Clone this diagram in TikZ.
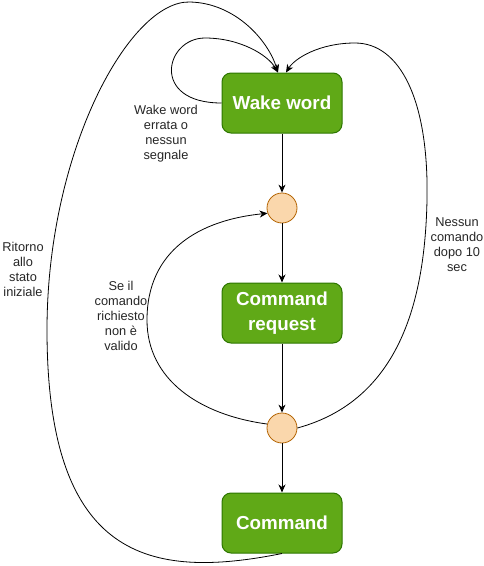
\documentclass[tikz,border=0pt]{standalone}
\usepackage{fontspec}
\setmainfont{Liberation Sans}
\usetikzlibrary{arrows.meta}
\definecolor{gfill}{HTML}{60A917}
\definecolor{gline}{HTML}{2D7600}
\definecolor{ofill}{HTML}{FAD7AC}
\definecolor{oline}{HTML}{B46504}
\begin{document}
\begin{tikzpicture}[x=1pt,y=-1pt,
  statebox/.style={draw=gline, fill=gfill, rounded corners=9pt, minimum width=120pt, minimum height=60pt, text=white, font=\fontsize{18.8}{25}\selectfont\bfseries, align=center, line width=1pt, inner sep=0pt},
  junction/.style={circle, draw=oline, fill=ofill, minimum size=30pt, inner sep=0pt, line width=0.8pt},
  arr/.style={-{Stealth[length=8pt,width=7pt,inset=2.5pt]}, line width=1pt},
  curve/.style={-{Stealth[length=8pt,width=7pt,inset=2.5pt]}, line width=0.8pt},
  lbl/.style={font=\fontsize{12.8}{15}\selectfont, align=center, text=black!85, inner sep=0pt}]
\useasboundingbox (0,0) rectangle (484,566);
\node[statebox] (wake) at (282,103) {Wake word};
\node[junction] (c1) at (282,208) {};
\node[statebox] (cr) at (282,313) {Command\\request};
\node[junction] (c2) at (282,428) {};
\node[statebox] (cmd) at (282,523) {Command};

\draw[arr] (wake) -- (c1);
\draw[arr] (c1) -- (cr);
\draw[arr] (cr) -- (c2);
\draw[arr] (c2) -- (cmd);

\draw[curve] (wake.west) .. controls (150,103) and (165,38) .. (205,38) .. controls (240,38) and (268,55) .. ([xshift=-4pt]wake.north);
\draw[curve] (cmd.south) .. controls (150,580) and (47,560) .. (47,330) .. controls (47,150) and (130,0) .. (190,2) .. controls (235,3) and (268,40) .. ([xshift=-4pt]wake.north);
\draw[curve] (c2.east) .. controls (400,400) and (425,300) .. (427,200) .. controls (429,100) and (400,43) .. (355,43) .. controls (320,43) and (295,58) .. ([xshift=4pt]wake.north);
\draw[curve] (c2.165) .. controls (200,415) and (147,380) .. (147,320) .. controls (147,250) and (200,220) .. (c1.200);

\node[lbl] (l1) at (166,134) {Wake word\\errata o\\nessun\\segnale};
\node[lbl] (l2) at (121,316) {Se il\\comando\\richiesto\\non è\\valido};
\node[lbl] (l3) at (23,269) {Ritorno\\allo\\stato\\iniziale};
\node[lbl] (l4) at (457,245) {Nessun\\comando\\dopo 10\\sec};
\end{tikzpicture}
\end{document}
